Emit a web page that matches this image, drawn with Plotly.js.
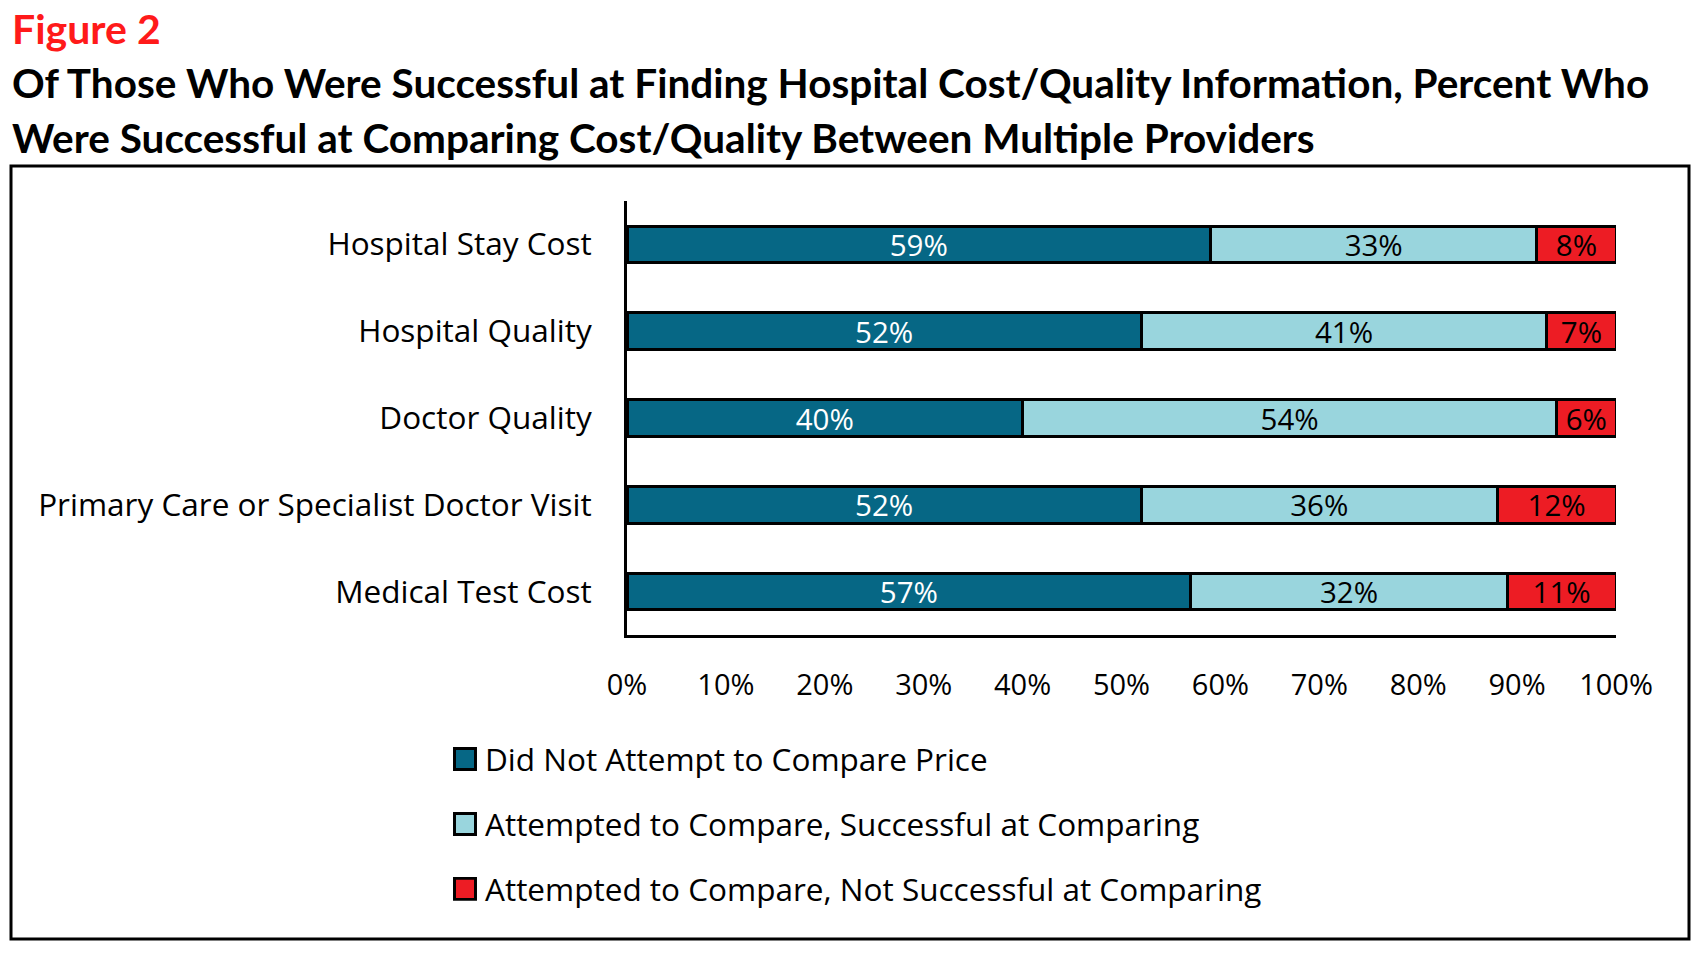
<!DOCTYPE html>
<html>
<head>
<meta charset="utf-8">
<script src="https://cdn.plot.ly/plotly-3.0.1.min.js"></script>
<style>
html,body{margin:0;padding:0;background:#fff;}
#chart{width:1707px;height:953px;}
</style>
</head>
<body>
<div id="chart"></div>
<script>
// ---- data ----
var categories = [
  "Hospital Stay Cost",
  "Hospital Quality",
  "Doctor Quality",
  "Primary Care or Specialist Doctor Visit",
  "Medical Test Cost"
];
var seriesNames = [
  "Did Not Attempt to Compare Price",
  "Attempted to Compare, Successful at Comparing",
  "Attempted to Compare, Not Successful at Comparing"
];
var didNotAttempt = [59, 52, 40, 52, 57];
var successful    = [33, 41, 54, 36, 32];
var notSuccessful = [8, 7, 6, 12, 11];
var xTickVals = [0, 10, 20, 30, 40, 50, 60, 70, 80, 90, 100];
var xTickText = ["0%", "10%", "20%", "30%", "40%", "50%", "60%", "70%", "80%", "90%", "100%"];

// ---- layout geometry (pixels) ----
var W = 1707, H = 953;
var L = 627, R = 1616, T = 201, B = 635;
function px(x) { return (x - L) / (R - L); }
function py(y) { return (B - y) / (B - T); }

var FONT = "'Open Sans', Lato, sans-serif";
var TFONT = "Lato, 'Open Sans', sans-serif";
var colors = ["#066785", "#99D5DD", "#ED1C24"];
var textColors = ["#FFFFFF", "#000000", "#000000"];
var values = [didNotAttempt, successful, notSuccessful];

var traces = values.map(function (v, i) {
  return {
    type: "bar",
    orientation: "h",
    name: seriesNames[i],
    legendgroup: "g" + i,
    y: categories,
    x: v,
    width: 0.42,
    text: v.map(function (d) { return d + "%"; }),
    textposition: "inside",
    insidetextanchor: "middle",
    constraintext: "none",
    textangle: 0,
    textfont: { family: FONT, size: 29.5, color: textColors[i] },
    marker: { color: colors[i], line: { color: "#000000", width: 3 } },
    hoverinfo: "skip"
  };
});

var layout = {
  width: W,
  height: H,
  margin: { l: L, r: W - R, t: T, b: H - B, pad: 0 },
  paper_bgcolor: "#FFFFFF",
  plot_bgcolor: "#FFFFFF",
  barmode: "stack",
  bargap: 0.58,
  showlegend: true,
  font: { family: FONT, color: "#000000" },
  xaxis: {
    range: [0, 100],
    tickvals: xTickVals,
    ticktext: xTickText,
    showgrid: false,
    zeroline: false,
    showline: true,
    linecolor: "#000000",
    linewidth: 3,
    ticks: "",
    ticklabelstandoff: 22,
    tickfont: { family: FONT, size: 29, color: "#000000" },
    fixedrange: true
  },
  yaxis: {
    type: "category",
    categoryorder: "array",
    categoryarray: categories,
    range: [4.5, -0.5],
    showgrid: false,
    zeroline: false,
    showline: true,
    linecolor: "#000000",
    linewidth: 3,
    ticks: "",
    ticklabelstandoff: 26,
    tickfont: { family: FONT, size: 31.5, color: "#000000" },
    fixedrange: true
  },
  legend: {
    x: px(445),
    xanchor: "left",
    y: py(732),
    yanchor: "top",
    orientation: "v",
    traceorder: "grouped",
    tracegroupgap: 21,
    font: { family: FONT, size: 31.5, color: "#000000" },
    bgcolor: "rgba(0,0,0,0)"
  },
  shapes: [
    {
      type: "rect", xref: "paper", yref: "paper",
      x0: px(11), x1: px(1689), y0: py(939), y1: py(166),
      line: { color: "#000000", width: 3 }, fillcolor: "rgba(0,0,0,0)", layer: "below"
    }
  ],
  annotations: [
    {
      text: "<b>Figure 2</b>", xref: "paper", yref: "paper",
      x: px(10), xanchor: "left", y: py(29), yanchor: "middle", showarrow: false,
      font: { family: TFONT, size: 41, color: "#FF1A1A" }
    },
    {
      text: "<b>Of Those Who Were Successful at Finding Hospital Cost/Quality Information, Percent Who</b>",
      xref: "paper", yref: "paper",
      x: px(10), xanchor: "left", y: py(83), yanchor: "middle", showarrow: false,
      font: { family: TFONT, size: 40.5, color: "#000000" }
    },
    {
      text: "<b>Were Successful at Comparing Cost/Quality Between Multiple Providers</b>",
      xref: "paper", yref: "paper",
      x: px(10), xanchor: "left", y: py(138), yanchor: "middle", showarrow: false,
      font: { family: TFONT, size: 40.5, color: "#000000" }
    }
  ]
};

Plotly.newPlot("chart", traces, layout, { displayModeBar: false, staticPlot: true }).then(function (gd) {
  // enlarge the legend swatches to match the reference's larger squares
  var pts = gd.querySelectorAll(".legend .legendpoints path");
  pts.forEach(function (p) {
    var t = p.getAttribute("transform") || "";
    p.setAttribute("transform", t + " scale(1.75)");
    p.style.strokeWidth = "1.7px";
  });
});
</script>
</body>
</html>
